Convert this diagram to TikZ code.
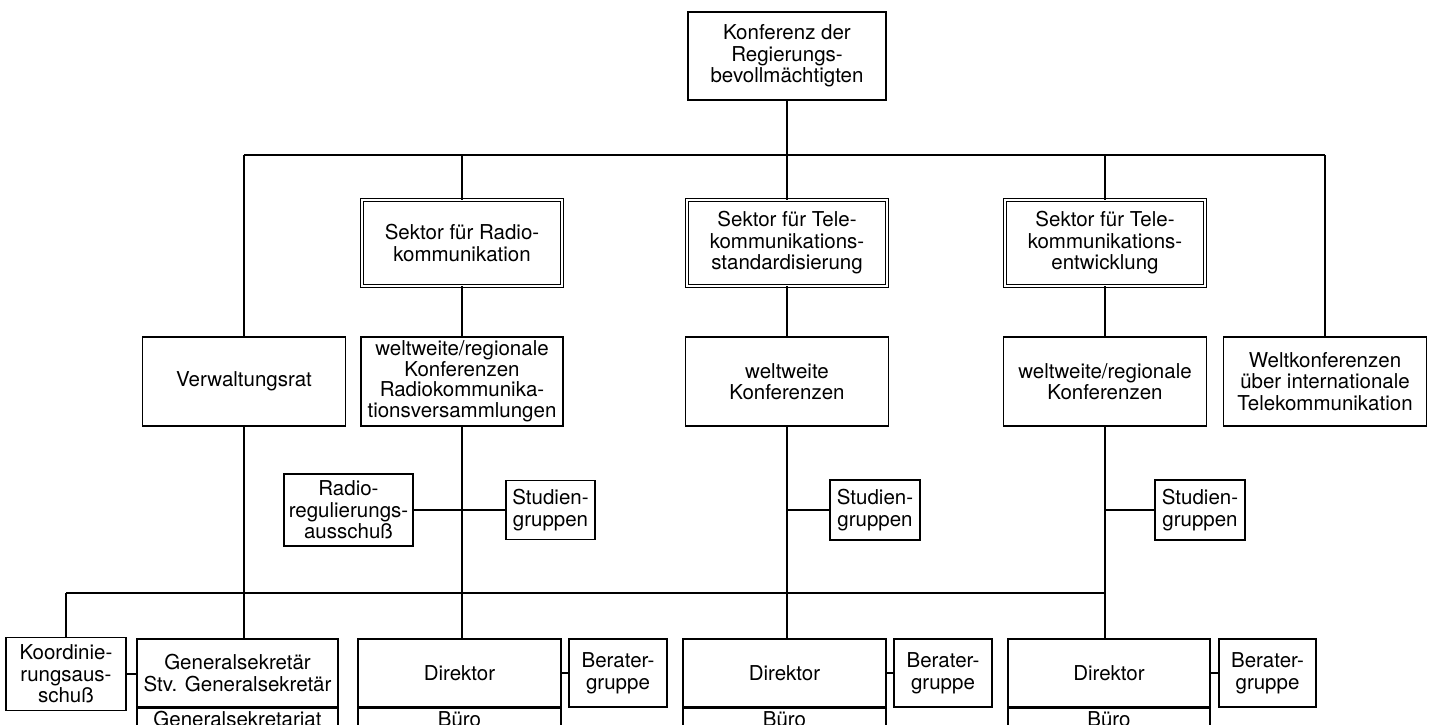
\documentclass[tikz,border=0pt]{standalone}
\usepackage{fontspec}
\setmainfont{TeX Gyre Heros}
\begin{document}
\begin{tikzpicture}[x=1pt,y=-1pt,
  box/.style={draw, line width=1.1pt, rectangle, align=center, inner sep=2pt, fill=white,
    font=\fontsize{20.5}{21.5}\selectfont},
  sektor/.style={box, double, double distance=2.2pt, line width=0.9pt},
  link/.style={line width=1.1pt}]
\useasboundingbox (0,0) rectangle (1433,724);
\clip (0,0) rectangle (1433,724);
% top
\node[box, minimum width=198, minimum height=88] (top) at (787,56) {Konferenz der\\Regierungs-\\bevollmächtigten};
% sectors
\node[sektor, minimum width=200, minimum height=86] (sekR) at (462,243) {Sektor für Radio-\\kommunikation};
\node[sektor, minimum width=200, minimum height=86] (sekS) at (787,243) {Sektor für Tele-\\kommunikations-\\standardisierung};
\node[sektor, minimum width=200, minimum height=86] (sekE) at (1105,243) {Sektor für Tele-\\kommunikations-\\entwicklung};
% row 3
\node[box, minimum width=203, minimum height=89] (vr) at (244,381.5) {Verwaltungsrat};
\node[box, minimum width=202, minimum height=89, inner ysep=1pt, font=\fontsize{20.5}{20.5}\selectfont] (rk) at (462,381.5) {weltweite/regionale\\Konferenzen\\Radiokommunika-\\tionsversammlungen};
\node[box, minimum width=203, minimum height=89] (wk) at (787,381.5) {weltweite\\Konferenzen};
\node[box, minimum width=203, minimum height=89] (wrk) at (1105,381.5) {weltweite/regionale\\Konferenzen};
\node[box, minimum width=203, minimum height=89] (wtk) at (1325,381.5) {Weltkonferenzen\\über internationale\\Telekommunikation};
% study groups
\node[box, minimum width=129, minimum height=72] (rra) at (348.5,510) {Radio-\\regulierungs-\\ausschuß};
\node[box, minimum width=89, minimum height=59] (sg1) at (550.5,510) {Studien-\\gruppen};
\node[box, minimum width=90, minimum height=60] (sg2) at (875,510) {Studien-\\gruppen};
\node[box, minimum width=90, minimum height=60] (sg3) at (1200,510) {Studien-\\gruppen};
% bottom row
\node[box, minimum width=120, minimum height=73] (koord) at (66,674) {Koordinie-\\rungsaus-\\schuß};
\node[box, minimum width=201, minimum height=68] (gs) at (237.5,673) {Generalsekretär\\Stv. Generalsekretär};
\node[box, anchor=north, minimum width=201, inner ysep=3pt, text depth=40pt] (gsl) at (gs.south) {Generalsekretariat};
\node[box, minimum width=203, minimum height=68] (d1) at (459.5,673) {Direktor};
\node[box, anchor=north, minimum width=203, inner ysep=3pt, text depth=40pt] (d1l) at (d1.south) {Büro};
\node[box, minimum width=98, minimum height=68] (b1) at (618,673) {Berater-\\gruppe};
\node[box, minimum width=203, minimum height=68] (d2) at (784.5,673) {Direktor};
\node[box, anchor=north, minimum width=203, inner ysep=3pt, text depth=40pt] (d2l) at (d2.south) {Büro};
\node[box, minimum width=98, minimum height=68] (b2) at (943,673) {Berater-\\gruppe};
\node[box, minimum width=202, minimum height=68] (d3) at (1109,673) {Direktor};
\node[box, anchor=north, minimum width=202, inner ysep=3pt, text depth=40pt] (d3l) at (d3.south) {Büro};
\node[box, minimum width=97, minimum height=68] (b3) at (1267.5,673) {Berater-\\gruppe};
% bus coordinates
\coordinate (busT) at (787,155);
\coordinate (busB) at (66,593);
% connectors
\draw[link] (top.south) -- (sekS.north);
\draw[link] (vr.north |- busT) -- (wtk.north |- busT);
\draw[link] (vr.north |- busT) -- (vr.north);
\draw[link] (sekR.north |- busT) -- (sekR.north);
\draw[link] (sekE.north |- busT) -- (sekE.north);
\draw[link] (wtk.north |- busT) -- (wtk.north);
\draw[link] (sekR.south) -- (rk.north);
\draw[link] (sekS.south) -- (wk.north);
\draw[link] (sekE.south) -- (wrk.north);
\draw[link] (rra.east) -- (sg1.west);
\draw[link] (wk.south |- sg2.west) -- (sg2.west);
\draw[link] (wrk.south |- sg3.west) -- (sg3.west);
\draw[link] (busB) -- (wrk.south |- busB);
\draw[link] (busB) -- (koord.north);
\draw[link] (vr.south) -- (vr.south |- gs.north);
\draw[link] (rk.south) -- (rk.south |- d1.north);
\draw[link] (wk.south) -- (wk.south |- d2.north);
\draw[link] (wrk.south) -- (wrk.south |- d3.north);
\draw[link] (koord.east) -- (koord.east -| gs.west);
\draw[link] (d1.east) -- (b1.west);
\draw[link] (d2.east) -- (b2.west);
\draw[link] (d3.east) -- (d3.east -| b3.west);
\end{tikzpicture}
\end{document}
